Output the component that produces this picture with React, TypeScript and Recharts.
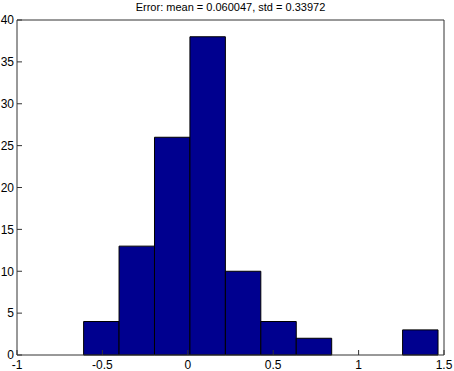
import { ComposedChart, XAxis, YAxis, ReferenceArea } from "recharts"

// histogram bin edges and counts
const binEdges = [-0.61, -0.4025, -0.195, 0.0125, 0.22, 0.4275, 0.635, 0.8425, 1.05, 1.2575, 1.465]
const counts = [4, 13, 26, 38, 10, 4, 2, 0, 0, 3]

const xTicks = [-1, -0.5, 0, 0.5, 1, 1.5]
const yTicks = [0, 5, 10, 15, 20, 25, 30, 35, 40]
const title = "Error: mean = 0.060047, std = 0.33972"

const bins = counts.map((c, i) => ({ x0: binEdges[i], x1: binEdges[i + 1], count: c }))

const axisColor = "#333"
const font = { fontFamily: "Liberation Sans, Arial, sans-serif", fontSize: 12, fill: "#000" }

export default function App() {
    return (
        <div style={{ position: "relative", width: 454, height: 371, background: "#fff" }}>
            <style>{`body{margin:0}`}</style>
            <div style={{ position: "absolute", left: 0, width: 461, top: 0, textAlign: "center", fontFamily: "Liberation Sans, Arial, sans-serif", fontSize: 11, lineHeight: "14px", color: "#000" }}>
                {title}
            </div>
            <ComposedChart width={454} height={371} data={bins} margin={{ top: 19, right: 9, bottom: 15, left: 16 }}>
                <XAxis xAxisId="b" type="number" dataKey="x0" domain={[-1, 1.5]} ticks={xTicks} allowDataOverflow
                    height={1} tickSize={-5} tickMargin={10} stroke={axisColor} tick={font} interval={0} />
                <XAxis xAxisId="t" orientation="top" type="number" dataKey="x0" domain={[-1, 1.5]} ticks={xTicks} allowDataOverflow
                    height={1} tickSize={-5} tick={false} stroke={axisColor} />
                <YAxis yAxisId="l" type="number" domain={[0, 40]} ticks={yTicks} allowDataOverflow
                    width={1} tickSize={-5} tickMargin={8} stroke={axisColor} tick={font} interval={0} />
                <YAxis yAxisId="r" orientation="right" type="number" domain={[0, 40]} ticks={yTicks} allowDataOverflow
                    width={1} tickSize={-5} tick={false} stroke={axisColor} />
                {bins.map((b, i) => (
                    <ReferenceArea key={i} xAxisId="b" yAxisId="l" x1={b.x0} x2={b.x1} y1={0} y2={b.count}
                        fill="#00008F" fillOpacity={1} stroke="#000" strokeWidth={1} />
                ))}
            </ComposedChart>
        </div>
    )
}
